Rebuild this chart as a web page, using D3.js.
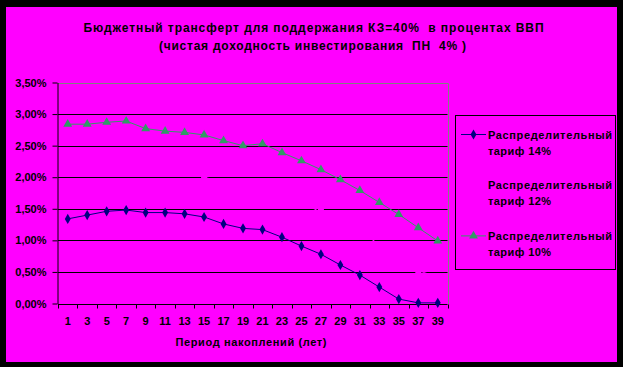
<!DOCTYPE html>
<html>
<head>
<meta charset="utf-8">
<script src="https://cdn.jsdelivr.net/npm/d3@7"></script>
<style>
  html, body { margin: 0; padding: 0; background: #000; }
  svg { display: block; }
  text { font-family: "Liberation Sans", Arial, sans-serif; font-weight: bold; fill: #000; white-space: pre; }
</style>
</head>
<body>
<svg id="chart" width="623" height="367"></svg>
<script>
const years = [1, 3, 5, 7, 9, 11, 13, 15, 17, 19, 21, 23, 25, 27, 29, 31, 33, 35, 37, 39];
const tariff14 = [1.34, 1.40, 1.46, 1.48, 1.44, 1.44, 1.42, 1.37, 1.26, 1.19, 1.17, 1.05, 0.91, 0.78, 0.61, 0.45, 0.26, 0.07, 0.01, 0.01];
const tariff12 = [2.09, 2.12, 2.16, 2.18, 2.10, 2.08, 2.06, 2.00, 1.92, 1.85, 1.85, 1.72, 1.59, 1.45, 1.29, 1.13, 0.94, 0.74, 0.52, 0.42];
const tariff10 = [2.84, 2.84, 2.87, 2.89, 2.77, 2.73, 2.71, 2.67, 2.58, 2.50, 2.53, 2.39, 2.26, 2.12, 1.96, 1.79, 1.60, 1.41, 1.20, 0.99];
const yTicks = [0, 0.5, 1, 1.5, 2, 2.5, 3, 3.5];
const seriesNames = ["Распределительный тариф 14%", "Распределительный тариф 12%", "Распределительный тариф 10%"];

const svg = d3.select("#chart");
const width = 623, height = 367;
const margin = { top: 82.5, right: 175.5, bottom: 63.5, left: 58 };
const bg = "#FF00FF";

svg.append("rect")
    .attr("x", 6).attr("y", 7)
    .attr("width", 611).attr("height", 355)
    .attr("fill", bg);

const x = d3.scaleBand()
    .domain(years)
    .range([margin.left, width - margin.right]);

const y = d3.scaleLinear()
    .domain([0, 3.5])
    .range([height - margin.bottom, margin.top]);

// gridlines
svg.append("g")
    .selectAll("line")
    .data(yTicks.filter(d => d > 0 && d < 3.5))
    .join("line")
    .attr("x1", margin.left).attr("x2", width - margin.right)
    .attr("y1", d => Math.round(y(d)) + 0.5).attr("y2", d => Math.round(y(d)) + 0.5)
    .attr("stroke", "#000");

// plot border (top + right)
svg.append("path")
    .attr("d", `M${margin.left},${Math.round(y(3.5)) + 0.5}H${Math.round(width - margin.right) + 0.5}V${Math.round(y(0))}`)
    .attr("fill", "none")
    .attr("stroke", "#808080");

// y axis
const fmt = d => d3.format(".2f")(d).replace(".", ",") + "%";
const yAxis = svg.append("g")
    .attr("transform", `translate(${margin.left - 0.5},0)`)
    .call(d3.axisLeft(y).tickValues(yTicks).tickSize(5).tickPadding(6).tickFormat(fmt).tickSizeOuter(0));
yAxis.selectAll("line, path").attr("stroke", "#000");
yAxis.selectAll("text").attr("font-size", 11).attr("font-family", null).attr("fill", "#000");

// x axis: labels centred in bands, ticks at band edges
const x0 = Math.round(y(0)) + 0.5;
const xAxis = svg.append("g")
    .attr("transform", `translate(0,${x0})`)
    .call(d3.axisBottom(x).tickSize(0).tickPadding(13));
xAxis.select(".domain").remove();
xAxis.selectAll("text").attr("font-size", 11).attr("font-family", null).attr("fill", "#000");

const edges = years.map(d => x(d)).concat([x.range()[1]]);
svg.append("g")
    .selectAll("line")
    .data(edges)
    .join("line")
    .attr("x1", d => Math.round(d) + 0.5).attr("x2", d => Math.round(d) + 0.5)
    .attr("y1", x0).attr("y2", x0 + 4)
    .attr("stroke", "#000");
svg.append("line")
    .attr("x1", margin.left).attr("x2", width - margin.right)
    .attr("y1", x0).attr("y2", x0)
    .attr("stroke", "#000");

// series
const cx = d => x(d) + x.bandwidth() / 2;
const line = d3.line().x(d => cx(d[0])).y(d => y(d[1]));

const series = [
    { name: seriesNames[0], values: tariff14, color: "#000080", symbol: d3.symbolDiamond, size: 30 },
    { name: seriesNames[1], values: tariff12, color: bg, symbol: d3.symbolSquare, size: 36 },
    { name: seriesNames[2], values: tariff10, color: "#339966", symbol: d3.symbolTriangle, size: 34 }
];

series.forEach(s => {
    const pts = years.map((yr, i) => [yr, s.values[i]]);
    svg.append("path")
        .datum(pts)
        .attr("d", line)
        .attr("fill", "none")
        .attr("stroke", s.color)
        .attr("stroke-width", 1);
    svg.append("g")
        .selectAll("path")
        .data(pts)
        .join("path")
        .attr("transform", d => `translate(${cx(d[0])},${y(d[1])})`)
        .attr("d", d3.symbol().type(s.symbol).size(s.size))
        .attr("fill", s.color);
});

// title
svg.append("text")
    .attr("x", 313.5).attr("y", 32)
    .attr("text-anchor", "middle")
    .attr("font-size", 12)
    .attr("textLength", 460).attr("lengthAdjust", "spacing")
    .text("Бюджетный трансферт для поддержания КЗ=40%  в процентах ВВП");
svg.append("text")
    .attr("x", 312.5).attr("y", 49.5)
    .attr("text-anchor", "middle")
    .attr("font-size", 12)
    .attr("textLength", 307).attr("lengthAdjust", "spacing")
    .text("(чистая доходность инвестирования  ПН  4% )");

// x axis title
svg.append("text")
    .attr("x", 251).attr("y", 346)
    .attr("text-anchor", "middle")
    .attr("font-size", 11)
    .attr("textLength", 151).attr("lengthAdjust", "spacing")
    .text("Период накоплений (лет)");

// legend
const legend = svg.append("g");
legend.append("rect")
    .attr("x", 455.5).attr("y", 115.5)
    .attr("width", 160).attr("height", 154)
    .attr("fill", "none")
    .attr("stroke", "#000");

series.forEach((s, i) => {
    const gy = 134.5 + i * 50.7;
    const g = legend.append("g").attr("transform", `translate(0,${gy})`);
    g.append("line")
        .attr("x1", 461).attr("x2", 486)
        .attr("y1", 0).attr("y2", 0)
        .attr("stroke", s.color);
    g.append("path")
        .attr("transform", "translate(473.5,0)")
        .attr("d", d3.symbol().type(s.symbol).size(s.size))
        .attr("fill", s.color);
    const words = s.name.split(" ");
    g.append("text")
        .attr("x", 488).attr("y", 4)
        .attr("font-size", 11)
        .attr("textLength", 124).attr("lengthAdjust", "spacing")
        .text(words[0]);
    g.append("text")
        .attr("x", 488).attr("y", 20)
        .attr("font-size", 11)
        .attr("textLength", 63).attr("lengthAdjust", "spacing")
        .text(words.slice(1).join(" "));
});
</script>
</body>
</html>
